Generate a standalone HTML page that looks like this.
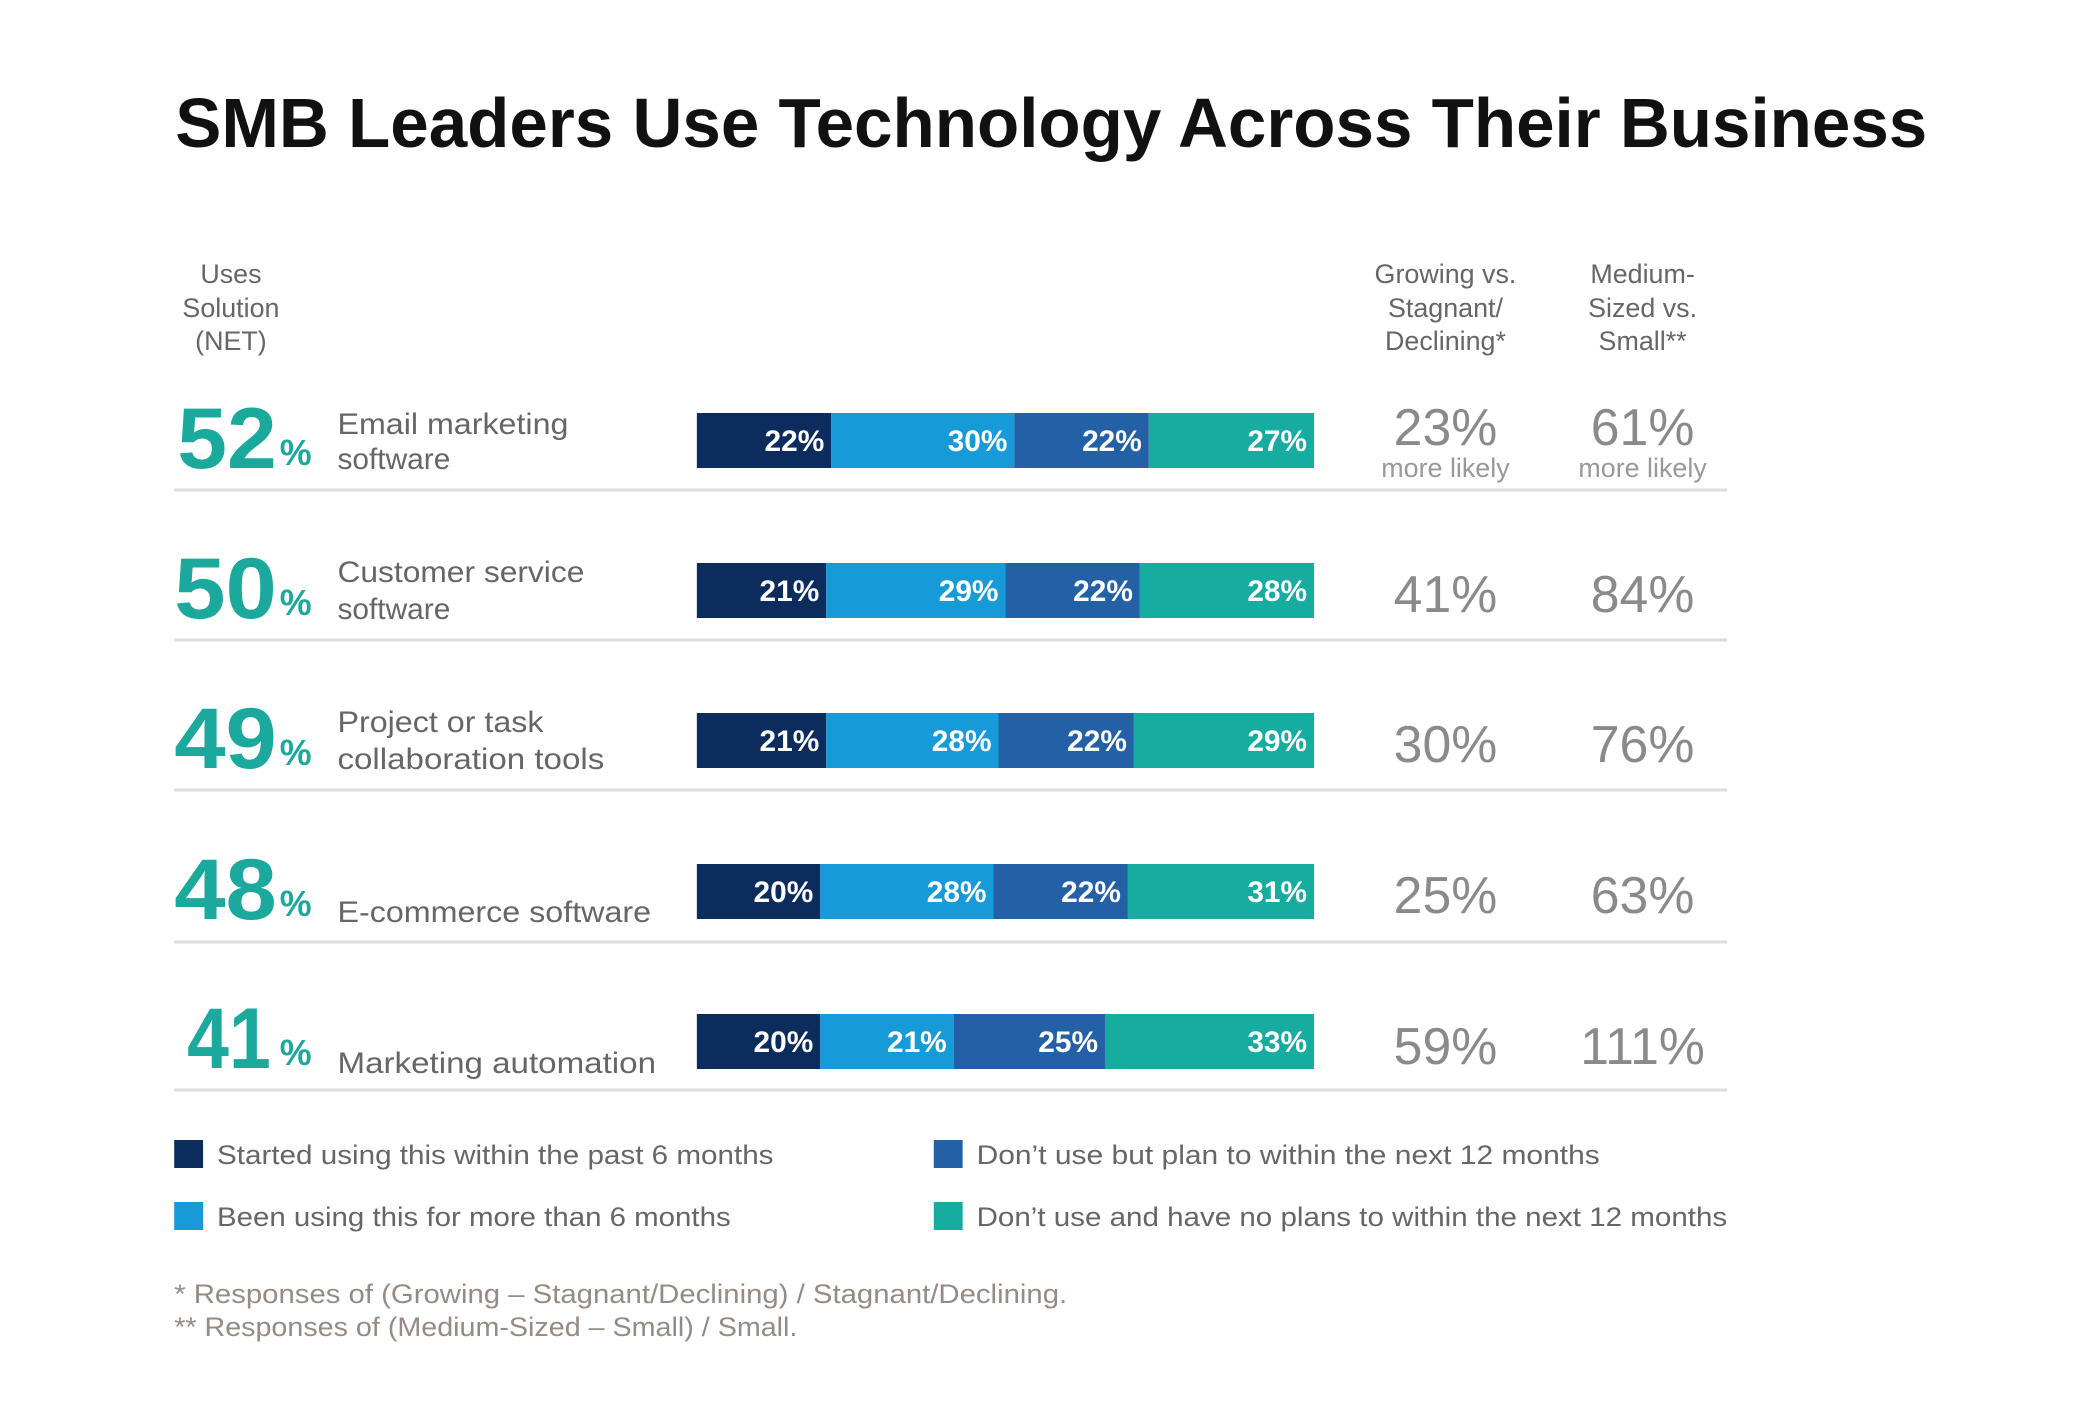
<!DOCTYPE html>
<html><head><meta charset="utf-8"><style>
html,body{margin:0;padding:0;background:#fff;}
svg{display:block;font-family:"Liberation Sans",sans-serif;}
</style></head><body>
<svg width="2100" height="1426" viewBox="0 0 2100 1426" xmlns="http://www.w3.org/2000/svg">
<rect width="2100" height="1426" fill="#fff"/>
<g transform="scale(0.9955,1)">
<text x="176" y="147" font-size="70" font-weight="bold" fill="#111" textLength="1760" lengthAdjust="spacingAndGlyphs">SMB Leaders Use Technology Across Their Business</text>

<g font-size="27" fill="#666" text-anchor="middle">
<text x="232" y="283">Uses</text><text x="232" y="317">Solution</text><text x="232" y="350">(NET)</text>
<text x="1452" y="283">Growing vs.</text><text x="1452" y="317">Stagnant/</text><text x="1452" y="350">Declining*</text>
<text x="1650" y="283">Medium-</text><text x="1650" y="317">Sized vs.</text><text x="1650" y="350">Small**</text>
</g>

<g stroke="#dedcd8" stroke-width="3">
<line x1="175" y1="490" x2="1735" y2="490"/>
<line x1="175" y1="640" x2="1735" y2="640"/>
<line x1="175" y1="790" x2="1735" y2="790"/>
<line x1="175" y1="942" x2="1735" y2="942"/>
<line x1="175" y1="1090" x2="1735" y2="1090"/>
</g>

<!-- Row 1 -->
<g>
<text x="178" y="468" font-size="86" font-weight="bold" fill="#1aa99c" textLength="100" lengthAdjust="spacingAndGlyphs">52</text>
<text x="281" y="465" font-size="36" font-weight="bold" fill="#1aa99c">%</text>
<text x="339" y="434" font-size="30" fill="#666" textLength="232" lengthAdjust="spacingAndGlyphs">Email marketing</text>
<text x="339" y="469" font-size="30" fill="#666">software</text>
<rect x="700" y="413" width="135" height="55" fill="#0c2c5e"/>
<rect x="835" y="413" width="184" height="55" fill="#169bd8"/>
<rect x="1019" y="413" width="135" height="55" fill="#2360a6"/>
<rect x="1154" y="413" width="166" height="55" fill="#16ac9f"/>
<g font-size="30" font-weight="bold" fill="#fff" text-anchor="end">
<text x="828" y="451">22%</text><text x="1012" y="451">30%</text><text x="1147" y="451">22%</text><text x="1313" y="451">27%</text>
</g>
<g fill="#8a8a8a" text-anchor="middle">
<text x="1452" y="445" font-size="52">23%</text><text x="1452" y="477" font-size="27" fill="#999">more likely</text>
<text x="1650" y="445" font-size="52">61%</text><text x="1650" y="477" font-size="27" fill="#999">more likely</text>
</g>
</g>

<!-- Row 2 -->
<g>
<text x="175" y="618" font-size="86" font-weight="bold" fill="#1aa99c" textLength="103" lengthAdjust="spacingAndGlyphs">50</text>
<text x="281" y="615" font-size="36" font-weight="bold" fill="#1aa99c">%</text>
<text x="339" y="582" font-size="30" fill="#666" textLength="248" lengthAdjust="spacingAndGlyphs">Customer service</text>
<text x="339" y="619" font-size="30" fill="#666">software</text>
<rect x="700" y="563" width="130" height="55" fill="#0c2c5e"/>
<rect x="830" y="563" width="180" height="55" fill="#169bd8"/>
<rect x="1010" y="563" width="135" height="55" fill="#2360a6"/>
<rect x="1145" y="563" width="175" height="55" fill="#16ac9f"/>
<g font-size="30" font-weight="bold" fill="#fff" text-anchor="end">
<text x="823" y="601">21%</text><text x="1003" y="601">29%</text><text x="1138" y="601">22%</text><text x="1313" y="601">28%</text>
</g>
<g fill="#8a8a8a" text-anchor="middle" font-size="52">
<text x="1452" y="612">41%</text><text x="1650" y="612">84%</text>
</g>
</g>

<!-- Row 3 -->
<g>
<text x="175" y="768" font-size="86" font-weight="bold" fill="#1aa99c" textLength="103" lengthAdjust="spacingAndGlyphs">49</text>
<text x="281" y="765" font-size="36" font-weight="bold" fill="#1aa99c">%</text>
<text x="339" y="732" font-size="30" fill="#666" textLength="207" lengthAdjust="spacingAndGlyphs">Project or task</text>
<text x="339" y="769" font-size="30" fill="#666" textLength="268" lengthAdjust="spacingAndGlyphs">collaboration tools</text>
<rect x="700" y="713" width="130" height="55" fill="#0c2c5e"/>
<rect x="830" y="713" width="173" height="55" fill="#169bd8"/>
<rect x="1003" y="713" width="136" height="55" fill="#2360a6"/>
<rect x="1139" y="713" width="181" height="55" fill="#16ac9f"/>
<g font-size="30" font-weight="bold" fill="#fff" text-anchor="end">
<text x="823" y="751">21%</text><text x="996" y="751">28%</text><text x="1132" y="751">22%</text><text x="1313" y="751">29%</text>
</g>
<g fill="#8a8a8a" text-anchor="middle" font-size="52">
<text x="1452" y="762">30%</text><text x="1650" y="762">76%</text>
</g>
</g>

<!-- Row 4 -->
<g>
<text x="175" y="919" font-size="86" font-weight="bold" fill="#1aa99c" textLength="103" lengthAdjust="spacingAndGlyphs">48</text>
<text x="281" y="916" font-size="36" font-weight="bold" fill="#1aa99c">%</text>
<text x="339" y="922" font-size="30" fill="#666" textLength="315" lengthAdjust="spacingAndGlyphs">E-commerce software</text>
<rect x="700" y="864" width="124" height="55" fill="#0c2c5e"/>
<rect x="824" y="864" width="174" height="55" fill="#169bd8"/>
<rect x="998" y="864" width="135" height="55" fill="#2360a6"/>
<rect x="1133" y="864" width="187" height="55" fill="#16ac9f"/>
<g font-size="30" font-weight="bold" fill="#fff" text-anchor="end">
<text x="817" y="902">20%</text><text x="991" y="902">28%</text><text x="1126" y="902">22%</text><text x="1313" y="902">31%</text>
</g>
<g fill="#8a8a8a" text-anchor="middle" font-size="52">
<text x="1452" y="913">25%</text><text x="1650" y="913">63%</text>
</g>
</g>

<!-- Row 5 -->
<g>
<text x="188" y="1068" font-size="86" font-weight="bold" fill="#1aa99c" textLength="84" lengthAdjust="spacingAndGlyphs">41</text>
<text x="281" y="1065" font-size="36" font-weight="bold" fill="#1aa99c">%</text>
<text x="339" y="1073" font-size="30" fill="#666" textLength="320" lengthAdjust="spacingAndGlyphs">Marketing automation</text>
<rect x="700" y="1014" width="124" height="55" fill="#0c2c5e"/>
<rect x="824" y="1014" width="134" height="55" fill="#169bd8"/>
<rect x="958" y="1014" width="152" height="55" fill="#2360a6"/>
<rect x="1110" y="1014" width="210" height="55" fill="#16ac9f"/>
<g font-size="30" font-weight="bold" fill="#fff" text-anchor="end">
<text x="817" y="1052">20%</text><text x="951" y="1052">21%</text><text x="1103" y="1052">25%</text><text x="1313" y="1052">33%</text>
</g>
<g fill="#8a8a8a" text-anchor="middle" font-size="52">
<text x="1452" y="1064">59%</text><text x="1650" y="1064">111%</text>
</g>
</g>

<!-- Legend -->
<rect x="175" y="1140" width="29" height="28" fill="#0c2c5e"/>
<rect x="175" y="1202" width="29" height="28" fill="#169bd8"/>
<rect x="938" y="1140" width="29" height="28" fill="#2360a6"/>
<rect x="938" y="1202" width="29" height="28" fill="#16ac9f"/>
<g font-size="27" fill="#666">
<text x="218" y="1164" textLength="559" lengthAdjust="spacingAndGlyphs">Started using this within the past 6 months</text>
<text x="218" y="1226" textLength="516" lengthAdjust="spacingAndGlyphs">Been using this for more than 6 months</text>
<text x="981" y="1164" textLength="626" lengthAdjust="spacingAndGlyphs">Don’t use but plan to within the next 12 months</text>
<text x="981" y="1226" textLength="754" lengthAdjust="spacingAndGlyphs">Don’t use and have no plans to within the next 12 months</text>
</g>
<g font-size="27" fill="#958b84">
<text x="175" y="1303" textLength="897" lengthAdjust="spacingAndGlyphs">* Responses of (Growing – Stagnant/Declining) / Stagnant/Declining.</text>
<text x="175" y="1336" textLength="626" lengthAdjust="spacingAndGlyphs">** Responses of (Medium-Sized – Small) / Small.</text>
</g>
</g>
</svg>
</body></html>
